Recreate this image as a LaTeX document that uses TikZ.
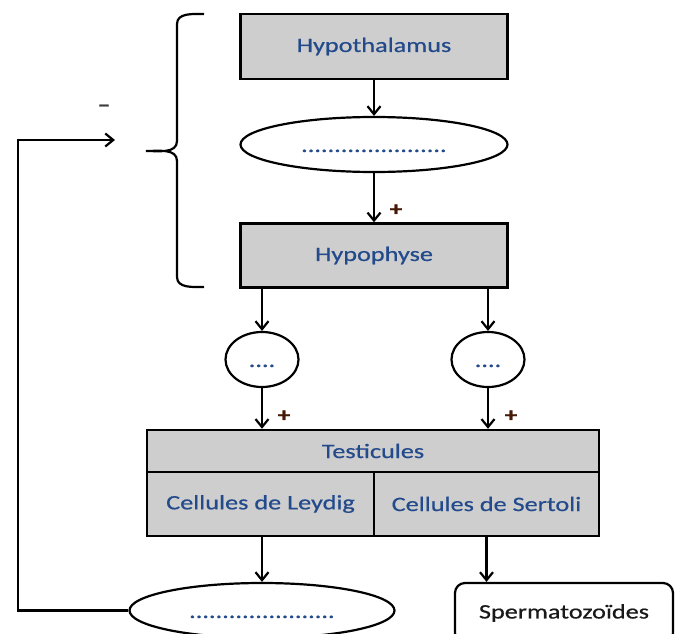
\documentclass[tikz,border=0pt]{standalone}
\usepackage{fontspec}
\setmainfont{Carlito}[FakeStretch=1.28,FakeBold=0.6]
\usetikzlibrary{shapes.geometric,arrows.meta}
\definecolor{txtblue}{RGB}{35,75,140}
\definecolor{boxgray}{RGB}{206,206,206}
\definecolor{plusbrown}{RGB}{70,25,5}
\tikzset{
  organ/.style={draw,line width=2.4pt,fill=boxgray,rectangle,inner sep=0pt,text=txtblue,font=\fontsize{20.5}{24}\selectfont},
  hormone/.style={draw,line width=2.2pt,fill=white,ellipse,inner sep=0pt,text=txtblue,text height=15pt,text depth=0pt,font=\fontsize{20.5}{24}\selectfont},
  link/.style={line width=2.2pt,-{Straight Barb[length=8pt,width=13pt,line width=2.2pt]}},
  sign/.style={inner sep=0pt,text=plusbrown,font=\bfseries\fontsize{20}{22}\selectfont},
}
\begin{document}
\begin{tikzpicture}[x=1pt,y=-1pt]
\useasboundingbox (0,0) rectangle (675,634);
% boxes
\node[organ,minimum width=267pt,minimum height=65pt] (hyp) at (374,46.5) {Hypothalamus};
\node[hormone,minimum width=267pt,minimum height=55pt] (e1) at (374,144.5) {......................};
\node[organ,minimum width=267pt,minimum height=64pt] (hypo) at (374,255.5) {Hypophyse};
\node[hormone,minimum width=73pt,minimum height=55pt] (c1) at (262,359.5) {....};
\node[hormone,minimum width=73pt,minimum height=55pt] (c2) at (488,359.5) {....};
\node[organ,minimum width=452pt,minimum height=42pt] (test) at (373,451) {Testicules};
\node[organ,minimum width=227pt,minimum height=64pt] (leydig) at (260.5,504) {Cellules de Leydig};
\node[organ,minimum width=225pt,minimum height=64pt] (sertoli) at (486.5,504) {Cellules de Sertoli};
\node[hormone,minimum width=265pt,minimum height=55pt] (e2) at (262,610.5) {......................};
\node[draw,line width=2.2pt,rounded corners=10pt,minimum width=218pt,minimum height=60pt,inner sep=0pt,text={rgb,255:red,25;green,25;blue,25},font=\fontsize{20.5}{24}\selectfont] (sperm) at (564,613) {Spermatozoïdes};
% signs
\node[sign] (p1) at (396,210) {+};
\node[sign] (p2) at (284,416) {+};
\node[sign] (p3) at (511,416) {+};
\node[inner sep=0pt,text=black!75,font=\bfseries\fontsize{20}{22}\selectfont] (minus) at (104,108) {\textendash};
% arrows
\draw[link] (hyp.south) -- (e1.north);
\draw[link] (e1.south) -- (hypo.north);
\draw[link] (c1.north |- hypo.south) -- (c1.north);
\draw[link] (c2.north |- hypo.south) -- (c2.north);
\draw[link] (c1.south) -- (c1.south |- test.north);
\draw[link] (c2.south) -- (c2.south |- test.north);
\draw[link] (e2.north |- leydig.south) -- (e2.north);
\draw[link] (sertoli.south) -- (sertoli.south |- sperm.north);
% feedback
\coordinate (fbcorner) at (18,140);
\coordinate (fbtip) at (115,140);
\draw[link] (e2.west) -| (fbcorner) -- (fbtip);
% brace
\coordinate (bt) at (204,14);
\coordinate (bm) at (146,151);
\coordinate (bb) at (204,287);
\draw[line width=2.2pt] (bt) to[out=180,in=90] (177,24) -- (177,141) to[out=-90,in=0] (bm) to[out=0,in=90] (177,161) -- (177,277) to[out=-90,in=180] (bb);
\end{tikzpicture}
\end{document}
